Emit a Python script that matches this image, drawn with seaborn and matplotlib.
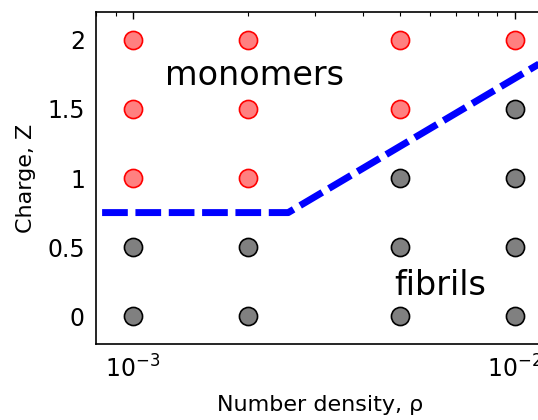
import numpy as np
import pandas as pd
import matplotlib
matplotlib.use('Agg')
import matplotlib.pyplot as plt
import seaborn as sns

# Grid of simulated states
densities = [1e-3, 2e-3, 5e-3, 1e-2]
charges = [0, 0.5, 1, 1.5, 2]
# phase observed at each (density, charge): rows follow densities, columns follow charges
phase = [
    ['fibril', 'fibril', 'monomer', 'monomer', 'monomer'],
    ['fibril', 'fibril', 'monomer', 'monomer', 'monomer'],
    ['fibril', 'fibril', 'fibril', 'monomer', 'monomer'],
    ['fibril', 'fibril', 'fibril', 'fibril', 'monomer'],
]

# Boundary line between the two phases
boundary_rho = [8.3e-4, 2.55e-3, 1.2e-2]
boundary_z = [0.75, 0.75, 1.85]

rows = []
for i, rho in enumerate(densities):
    for j, z in enumerate(charges):
        rows.append({'rho': rho, 'Z': z, 'phase': phase[i][j]})
df = pd.DataFrame(rows)

sns.set_style('white')
plt.rcParams['font.family'] = ['DejaVu Sans']
plt.rcParams['text.color'] = 'black'
plt.rcParams['axes.labelcolor'] = 'black'

fig = plt.figure(figsize=(5.38, 4.2), dpi=100)
ax = fig.add_axes([96 / 538, 76 / 420, 449 / 538, 332 / 420])

# fibrils (gray) and monomers (red)
sns.scatterplot(data=df[df['phase'] == 'fibril'], x='rho', y='Z', ax=ax,
                s=170, color='#808080', edgecolor='black', linewidth=1.2, zorder=3)
sns.scatterplot(data=df[df['phase'] == 'monomer'], x='rho', y='Z', ax=ax,
                s=170, color='#ff8080', edgecolor='red', linewidth=1.2, zorder=3)

sns.lineplot(x=boundary_rho, y=boundary_z, ax=ax, color='blue', linewidth=5,
             estimator=None, sort=False, zorder=2)
ax.lines[-1].set_linestyle((0, (3.7, 1.1)))

ax.set_xscale('log')
ax.set_xlim(8e-4, 1.2e-2)
ax.set_ylim(-0.2, 2.2)
ax.set_yticks([0, 0.5, 1, 1.5, 2])
ax.set_yticklabels(['0', '0.5', '1', '1.5', '2'])

ax.tick_params(which='both', direction='in', top=True, right=True,
               colors='black', labelcolor='black')
ax.tick_params(which='major', length=5, width=1, labelsize=17, pad=8)
ax.tick_params(which='minor', length=3, width=0.8)
for sp in ax.spines.values():
    sp.set_color('black')
    sp.set_linewidth(1.2)

ax.set_xlabel('Number density, ρ', fontsize=16, labelpad=9, color='black')
ax.set_ylabel('Charge, Z', fontsize=16, labelpad=8, color='black')

ax.text(1.21e-3, 1.74, 'monomers', fontsize=24, va='center', ha='left', color='black')
ax.text(4.82e-3, 0.22, 'fibrils', fontsize=24, va='center', ha='left', color='black')

fig.savefig('out.png', dpi=100)
